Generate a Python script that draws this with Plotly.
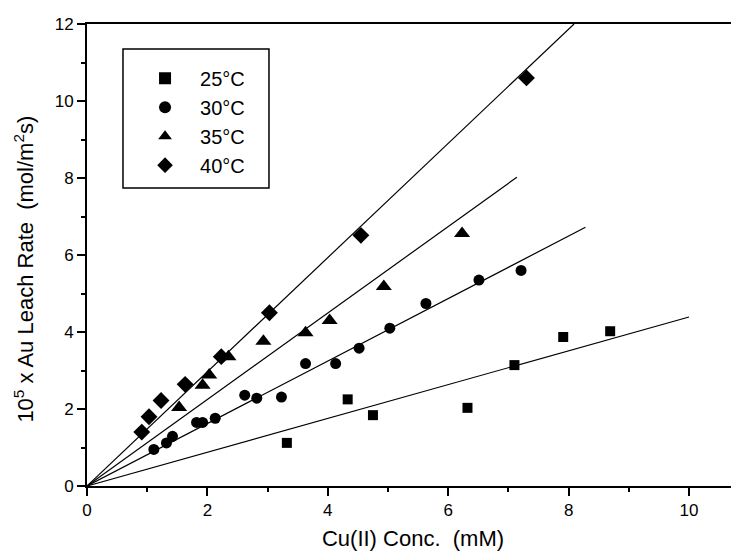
import plotly.graph_objects as go

x_25 = [3.32, 4.33, 4.75, 6.32, 7.10, 7.91, 8.69]
y_25 = [1.12, 2.25, 1.84, 2.03, 3.14, 3.87, 4.02]

x_30 = [1.11, 1.32, 1.42, 1.82, 1.92, 2.13, 2.62, 2.82, 3.23, 3.63, 4.13, 4.52, 5.03, 5.63, 6.51, 7.21]
y_30 = [0.95, 1.12, 1.29, 1.65, 1.65, 1.76, 2.36, 2.28, 2.31, 3.18, 3.18, 3.58, 4.10, 4.74, 5.35, 5.60]

x_35 = [1.53, 1.92, 2.03, 2.35, 2.93, 3.63, 4.03, 4.93, 6.23]
y_35 = [2.04, 2.62, 2.88, 3.36, 3.76, 3.98, 4.30, 5.18, 6.56]

x_40 = [0.91, 1.03, 1.23, 1.63, 2.23, 3.03, 4.55, 7.30]
y_40 = [1.40, 1.80, 2.22, 2.64, 3.36, 4.50, 6.51, 10.60]

# fitted lines through origin, end points
fit_x_end = [10.0, 8.28, 7.14, 8.09]
fit_y_end = [4.39, 6.72, 8.02, 12.0]

labels = ["25°C", "30°C", "35°C", "40°C"]
symbols = ["square", "circle", "triangle-up", "diamond"]
sizes = [10, 11, 14, 13]

fig = go.Figure()

series = [(x_25, y_25), (x_30, y_30), (x_35, y_35), (x_40, y_40)]

for i in range(4):
    fig.add_trace(go.Scatter(x=[0, fit_x_end[i]], y=[0, fit_y_end[i]],
                             mode="lines", line=dict(color="black", width=1.2),
                             showlegend=False, hoverinfo="skip"))

for i in range(4):
    xs, ys = series[i]
    fig.add_trace(go.Scatter(x=xs, y=ys, mode="markers", name=labels[i],
                             marker=dict(symbol=symbols[i], size=sizes[i], color="black")))

font = "Liberation Sans, Arial, sans-serif"

# page body has an 8px margin, so the figure is a bit smaller and shifted
fig.update_layout(
    width=731, height=544,
    margin=dict(l=79, r=0, t=16, b=66),
    paper_bgcolor="white", plot_bgcolor="white",
    font=dict(family=font, color="black", size=17),
    legend=dict(x=0.066, y=0.925, xanchor="left", yanchor="top",
                borderwidth=0, bgcolor="rgba(0,0,0,0)",
                font=dict(size=20), itemwidth=60, itemsizing="constant",
                tracegroupgap=0),
    # legend frame
    shapes=[dict(type="rect", xref="paper", yref="paper",
                 x0=0.0552, x1=0.2791, y0=0.645, y1=0.946,
                 line=dict(color="black", width=1.5), layer="below")],
    # y title as annotation so it can sit further left
    annotations=[dict(text="10<sup>5</sup> x Au Leach Rate\u00a0\u00a0(mol/m<sup>2</sup>s)",
                      xref="paper", yref="paper", x=-0.097, y=0.47,
                      xanchor="center", yanchor="middle", textangle=-90,
                      showarrow=False, font=dict(size=22))],
)

fig.update_xaxes(
    range=[0, 10.83], showgrid=False, zeroline=False, automargin=False,
    showline=True, linecolor="black", linewidth=2, mirror=True,
    ticks="outside", ticklen=8, tickwidth=1.5, tickcolor="black",
    tick0=0, dtick=2,
    minor=dict(ticks="outside", ticklen=4, tickwidth=1.5, tickcolor="black", dtick=1),
    tickfont=dict(size=17),
    title=dict(text="Cu(II) Conc.\u00a0\u00a0(mM)", font=dict(size=22), standoff=11),
)
fig.update_yaxes(
    range=[0, 12], showgrid=False, zeroline=False, automargin=False,
    showline=True, linecolor="black", linewidth=2,
    ticks="outside", ticklen=8, tickwidth=1.5, tickcolor="black",
    tick0=0, dtick=2,
    minor=dict(ticks="outside", ticklen=4, tickwidth=1.5, tickcolor="black", dtick=1),
    tickfont=dict(size=17),
)

fig.write_html("out.html")
